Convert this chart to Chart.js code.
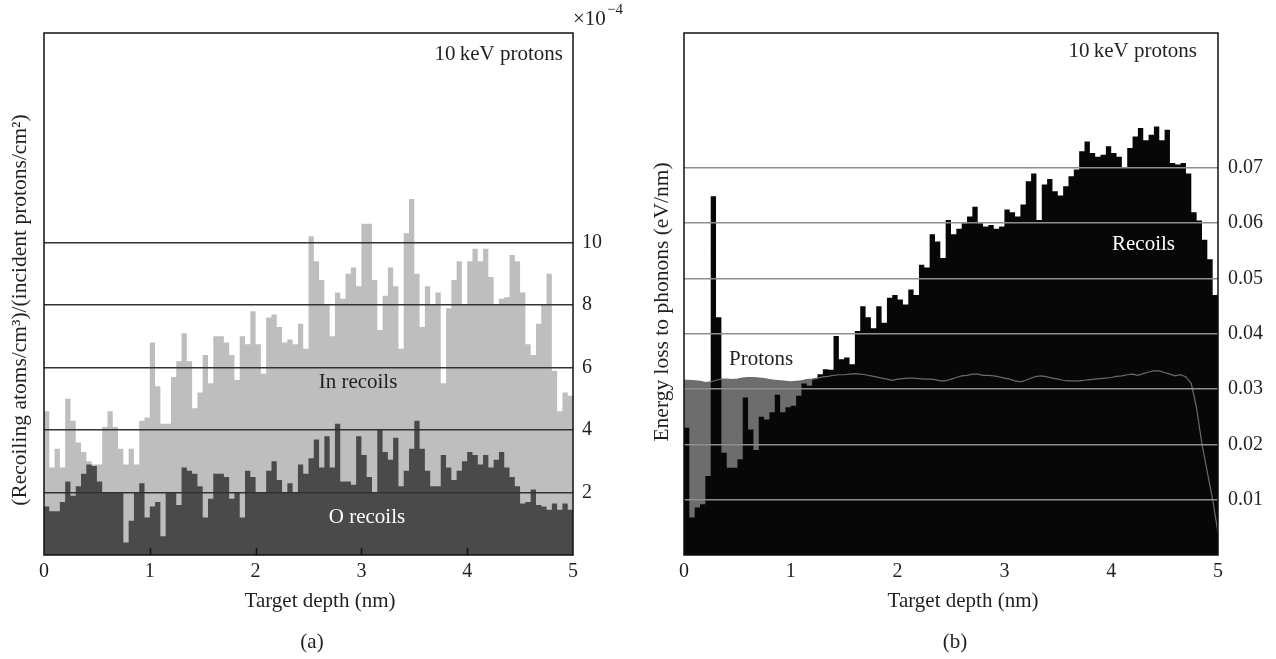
<!DOCTYPE html>
<html><head><meta charset="utf-8">
<script src="https://cdn.jsdelivr.net/npm/chart.js@4.4.1/dist/chart.umd.min.js"></script>
<style>
html,body{margin:0;padding:0;background:#fff;width:1276px;height:659px;overflow:hidden}
canvas{position:absolute;top:0}
#ca{left:0}#cb{left:640px}
</style></head>
<body>
<canvas id="ca" width="640" height="659"></canvas>
<canvas id="cb" width="636" height="659"></canvas>
<script>
// ---- data (bins of 0.05 nm, 0 to 5 nm) ----
const BIN = 0.05;
const depthTicks = [0, 1, 2, 3, 4, 5];
const leftTicks = [2, 4, 6, 8, 10];
const rightTicks = [0.01, 0.02, 0.03, 0.04, 0.05, 0.06, 0.07];

// panel (a), units of 1e-4
const inRecoils = [4.6,2.8,3.4,2.8,5.0,4.3,3.6,3.3,3.0,2.9,
  2.9,4.1,4.6,4.1,3.4,2.9,3.4,2.9,4.3,4.4,
  6.8,5.4,4.2,4.2,5.7,6.2,7.1,6.2,4.7,5.2,
  6.4,5.5,7.0,7.0,6.8,6.4,5.6,7.0,6.75,7.8,
  6.75,5.8,7.6,7.7,7.3,6.8,6.9,6.75,7.4,6.6,
  10.2,9.4,8.8,8.0,7.0,8.4,8.2,9.0,9.2,8.6,
  10.6,10.6,8.8,7.2,8.3,9.2,8.6,6.6,10.3,11.4,
  9.0,7.3,8.6,8.0,8.4,5.5,7.9,8.8,9.4,8.0,
  9.4,9.8,9.4,9.8,8.9,8.0,8.2,8.25,9.6,9.4,
  8.4,6.75,6.4,7.4,8.0,9.0,5.9,4.6,5.2,5.1];
const oRecoils = [1.55,1.4,1.4,1.7,2.35,1.9,2.2,2.6,2.9,2.85,
  2.35,2.0,2.0,2.0,2.0,0.4,1.1,2.0,2.3,1.2,
  1.55,1.7,0.6,2.0,2.0,1.6,2.8,2.7,2.6,2.2,
  1.2,1.8,2.6,2.6,2.5,1.8,2.0,1.2,2.7,2.5,
  2.0,2.0,2.7,3.0,2.4,2.0,2.3,2.0,2.9,2.6,
  3.1,3.7,2.8,3.8,2.8,4.2,2.35,2.35,2.25,3.8,
  3.2,2.5,2.0,4.0,3.3,3.05,3.75,2.2,2.7,3.4,
  4.3,3.4,2.7,2.2,2.2,3.2,2.8,2.4,2.7,3.0,
  3.3,3.2,2.9,3.2,2.8,3.05,3.3,2.8,2.5,2.2,
  1.65,1.7,2.1,1.6,1.55,1.45,1.65,1.45,1.65,1.45];

// panel (b), eV/nm
const recoilsPhonon = [0.023,0.0068,0.0086,0.0092,0.0143,0.0649,0.043,0.0185,0.0158,0.0158,
  0.0173,0.0285,0.0227,0.019,0.025,0.0245,0.0258,0.029,0.0258,0.0267,
  0.027,0.0288,0.031,0.0306,0.0318,0.0327,0.0336,0.0335,0.0396,0.0354,
  0.0357,0.0345,0.0405,0.045,0.043,0.041,0.045,0.042,0.0465,0.047,
  0.0462,0.0453,0.048,0.047,0.0525,0.052,0.058,0.0567,0.0537,0.0606,
  0.058,0.059,0.060,0.0612,0.063,0.060,0.0594,0.0597,0.059,0.0594,
  0.0625,0.062,0.0612,0.0634,0.0676,0.069,0.0606,0.067,0.068,0.0658,
  0.065,0.0667,0.0685,0.0697,0.073,0.0748,0.0727,0.072,0.0724,0.0739,
  0.0727,0.072,0.070,0.0736,0.0757,0.0772,0.075,0.076,0.0775,0.075,
  0.0769,0.0709,0.0706,0.0709,0.069,0.062,0.0605,0.057,0.0535,0.047];
const protonsPhonon = [0.0316,0.0316,0.0315,0.0314,0.0312,0.0313,0.0316,0.0318,0.0318,0.0317,
  0.0318,0.0320,0.0321,0.0321,0.0320,0.0319,0.0317,0.0316,0.0315,0.0314,
  0.0313,0.0314,0.0315,0.0317,0.0318,0.0320,0.0322,0.0323,0.0325,0.0326,
  0.0326,0.0327,0.0328,0.0327,0.0326,0.0324,0.0322,0.0320,0.0318,0.0316,
  0.0318,0.0319,0.0320,0.0320,0.0319,0.0318,0.0318,0.0317,0.0315,0.0315,
  0.0318,0.0321,0.0324,0.0325,0.0327,0.0327,0.0325,0.0325,0.0324,0.0322,
  0.0320,0.0318,0.0315,0.0313,0.0316,0.0320,0.0323,0.0324,0.0322,0.0320,
  0.0318,0.0316,0.0315,0.0315,0.0315,0.0316,0.0317,0.0318,0.0319,0.0320,
  0.0321,0.0323,0.0324,0.0326,0.0327,0.0325,0.0328,0.0331,0.0333,0.0333,
  0.0330,0.0327,0.0324,0.0326,0.0322,0.0310,0.0265,0.0200,0.0150,0.0100,
  0.0040];

// ---- helpers ----
const FONT = '"Liberation Serif", "Times New Roman", serif';
const TXT = '#231f20';
const LABEL_SIZE = 21;
function stepPoints(vals) {
  const pts = vals.map((v, i) => ({x: +(i * BIN).toFixed(2), y: v}));
  pts.push({x: 5, y: vals[vals.length - 1]});
  return pts;
}
function linePoints(vals) {
  return vals.map((v, i) => ({x: +(i * BIN).toFixed(2), y: v}));
}
Chart.defaults.font.family = FONT;
Chart.defaults.font.size = 20;
Chart.defaults.color = TXT;

function frameAndText(opts) {
  return {
    id: 'annot' + opts.tag,
    afterDraw(chart) {
      const {ctx, chartArea: a, scales} = chart;
      ctx.save();
      ctx.strokeStyle = '#111';
      ctx.lineWidth = 1.5;
      ctx.strokeRect(a.left, a.top, a.right - a.left, a.bottom - a.top);
      if (opts.innerTicks) {
        depthTicks.slice(1, -1).forEach(v => {
          const x = Math.round(scales.x.getPixelForValue(v)) + 0.5;
          ctx.beginPath(); ctx.moveTo(x, a.bottom); ctx.lineTo(x, a.bottom - 7); ctx.stroke();
        });
      }
      ctx.textBaseline = 'alphabetic';
      opts.texts.forEach(t => {
        ctx.fillStyle = t.color || TXT;
        ctx.textAlign = t.align || 'center';
        ctx.font = (t.size || LABEL_SIZE) + 'px ' + FONT;
        ctx.fillText(t.s, t.x, t.y);
      });
      ctx.translate(opts.yTitle.x, opts.yTitle.y);
      ctx.rotate(-Math.PI / 2);
      ctx.font = '21.5px ' + FONT;
      ctx.fillStyle = TXT;
      ctx.textAlign = 'center';
      ctx.textBaseline = 'middle';
      ctx.fillText(opts.yTitle.s, 0, 0);
      ctx.restore();
    }
  };
}

function xScale() {
  return {
    type: 'linear', min: 0, max: 5, position: 'bottom',
    grid: {display: false, drawTicks: false}, border: {display: false},
    afterBuildTicks: ax => { ax.ticks = depthTicks.map(v => ({value: v})); },
    ticks: {padding: 5, maxRotation: 0, color: TXT, callback: v => String(v)},
    afterFit: ax => { ax.height = 104; }
  };
}

// ---- panel (a) ----
new Chart(document.getElementById('ca'), {
  type: 'line',
  data: {datasets: [
    {label: 'O recoils', data: stepPoints(oRecoils), stepped: true, fill: 'origin',
     backgroundColor: '#4a4a4a', borderColor: 'rgba(0,0,0,0)', borderWidth: 0, pointRadius: 0},
    {label: 'In recoils', data: stepPoints(inRecoils), stepped: true, fill: 'origin',
     backgroundColor: '#bebebe', borderColor: 'rgba(0,0,0,0)', borderWidth: 0, pointRadius: 0}
  ]},
  options: {
    responsive: false, animation: false, devicePixelRatio: 1,
    layout: {padding: {left: 44, top: 33, right: 0, bottom: 0}},
    plugins: {legend: {display: false}, tooltip: {enabled: false}},
    scales: {
      x: xScale(),
      y: {
        type: 'linear', position: 'right', min: 0, max: 16.71,
        grid: {color: '#333333', lineWidth: 1.6, drawTicks: false, z: 1}, border: {display: false},
        afterBuildTicks: ax => { ax.ticks = leftTicks.map(v => ({value: v})); },
        ticks: {padding: 9, color: TXT, callback: v => String(v)},
        afterFit: ax => { ax.width = 67; }
      }
    }
  },
  plugins: [frameAndText({
    tag: 'A', innerTicks: true,
    texts: [
      {s: '10\u2009keV protons', x: 563, y: 60, align: 'right'},
      {s: 'In recoils', x: 358, y: 388},
      {s: 'O recoils', x: 367, y: 523, color: '#ffffff'},
      {s: 'Target depth (nm)', x: 320, y: 607},
      {s: '(a)', x: 312, y: 648},
      {s: '\u00d710', x: 573, y: 25, align: 'left'},
      {s: '\u22124', x: 607, y: 14, align: 'left', size: 15}
    ],
    yTitle: {s: '(Recoiling atoms/cm\u00b3)/(incident protons/cm\u00b2)', x: 20, y: 310}
  })]
});

// ---- panel (b) ----
new Chart(document.getElementById('cb'), {
  type: 'line',
  data: {datasets: [
    {label: 'Recoils', data: stepPoints(recoilsPhonon), stepped: true, fill: 'origin',
     backgroundColor: '#070707', borderColor: 'rgba(0,0,0,0)', borderWidth: 0, pointRadius: 0},
    {label: 'Protons', data: linePoints(protonsPhonon), fill: 'origin', tension: 0,
     backgroundColor: '#6d6d6d', borderColor: '#6a6a6a', borderWidth: 1.2, pointRadius: 0}
  ]},
  options: {
    responsive: false, animation: false, devicePixelRatio: 1,
    layout: {padding: {left: 44, top: 33, right: 0, bottom: 0}},
    plugins: {legend: {display: false}, tooltip: {enabled: false}, filler: {drawTime: 'beforeDatasetsDraw'}},
    scales: {
      x: xScale(),
      y: {
        type: 'linear', position: 'right', min: 0, max: 0.0944,
        grid: {color: '#8e8e8e', lineWidth: 1.6, drawTicks: false, z: 1}, border: {display: false},
        afterBuildTicks: ax => { ax.ticks = rightTicks.map(v => ({value: v})); },
        ticks: {padding: 10, color: TXT, callback: v => Number(v).toFixed(2)},
        afterFit: ax => { ax.width = 58; }
      }
    }
  },
  plugins: [frameAndText({
    tag: 'B', innerTicks: false,
    texts: [
      {s: '10\u2009keV protons', x: 557, y: 57, align: 'right'},
      {s: 'Recoils', x: 472, y: 250, align: 'left', color: '#ffffff'},
      {s: 'Protons', x: 89, y: 365, align: 'left'},
      {s: 'Target depth (nm)', x: 323, y: 607},
      {s: '(b)', x: 315, y: 648}
    ],
    yTitle: {s: 'Energy loss to phonons (eV/nm)', x: 22, y: 302}
  })]
});
</script>
</body></html>
